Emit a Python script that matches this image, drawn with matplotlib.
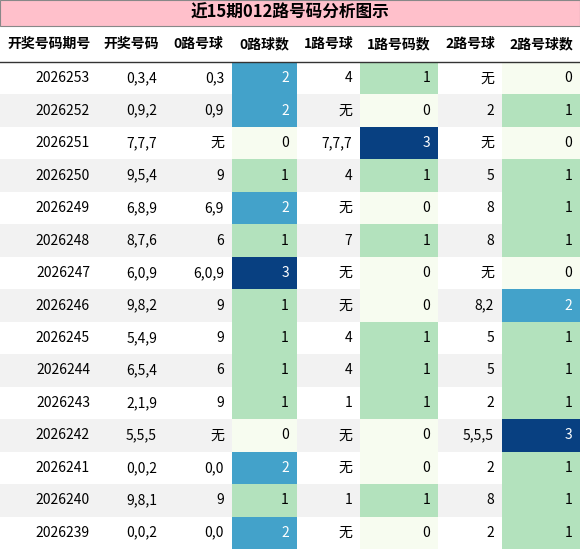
import matplotlib.pyplot as plt
from matplotlib.patches import Rectangle

plt.rcParams['font.family'] = ['Noto Sans CJK SC', 'DejaVu Sans']

title = "近15期012路号码分析图示"
headers = ["开奖号码期号", "开奖号码", "0路号球", "0路球数", "1路号球", "1路号码数", "2路号球", "2路号球数"]
periods = ["2026253", "2026252", "2026251", "2026250", "2026249", "2026248", "2026247", "2026246",
           "2026245", "2026244", "2026243", "2026242", "2026241", "2026240", "2026239"]
numbers = ["0,3,4", "0,9,2", "7,7,7", "9,5,4", "6,8,9", "8,7,6", "6,0,9", "9,8,2",
           "5,4,9", "6,5,4", "2,1,9", "5,5,5", "0,0,2", "9,8,1", "0,0,2"]
road0 = ["0,3", "0,9", "无", "9", "6,9", "6", "6,0,9", "9", "9", "6", "9", "无", "0,0", "9", "0,0"]
cnt0 = [2, 2, 0, 1, 2, 1, 3, 1, 1, 1, 1, 0, 2, 1, 2]
road1 = ["4", "无", "7,7,7", "4", "无", "7", "无", "无", "4", "4", "1", "无", "无", "1", "无"]
cnt1 = [1, 0, 3, 1, 0, 1, 0, 0, 1, 1, 1, 0, 0, 1, 0]
road2 = ["无", "2", "无", "5", "8", "8", "无", "8,2", "5", "5", "2", "5,5,5", "2", "8", "2"]
cnt2 = [0, 1, 0, 1, 1, 1, 0, 2, 1, 1, 1, 3, 1, 1, 1]

W, H = 580, 549
fig = plt.figure(figsize=(W / 100, H / 100), dpi=100)
ax = fig.add_axes([0, 0, 1, 1])
ax.set_xlim(0, W)
ax.set_ylim(H, 0)
ax.axis('off')

colx = [0, 98, 165, 232, 297, 360, 438, 502, 580]
title_h, head_h = 26, 36
row_h = (H - title_h - head_h) / len(periods)
cnt_colors = {0: '#f7fcf0', 1: '#b3e2bd', 2: '#43a2ca', 3: '#084081'}

ax.add_patch(Rectangle((0, 0), W, title_h, fc='#ffc0cb', ec='#888888', lw=0.8))
ax.text(W / 2, title_h / 2, title, ha='center', va='center', fontsize=12, fontweight='bold')
for j, h in enumerate(headers):
    ax.text((colx[j] + colx[j + 1]) / 2, title_h + head_h / 2, h, ha='center', va='center',
            fontsize=10, fontweight='bold')
ax.plot([0, W], [title_h + head_h, title_h + head_h], color='#333333', lw=1)

cols = [periods, numbers, road0, cnt0, road1, cnt1, road2, cnt2]
for i in range(len(periods)):
    y0 = title_h + head_h + i * row_h
    if i % 2 == 1:
        ax.add_patch(Rectangle((0, y0), W, row_h, fc='#f2f2f2', ec='none'))
    for j, col in enumerate(cols):
        v = col[i]
        tc = 'black'
        if j in (3, 5, 7):
            ax.add_patch(Rectangle((colx[j], y0), colx[j + 1] - colx[j], row_h,
                                   fc=cnt_colors[v], ec='none'))
            if v >= 2:
                tc = 'white'
        ax.text(colx[j + 1] - 8, y0 + row_h / 2, str(v), ha='right', va='center',
                fontsize=10, color=tc)

fig.savefig('out.png', dpi=100)
